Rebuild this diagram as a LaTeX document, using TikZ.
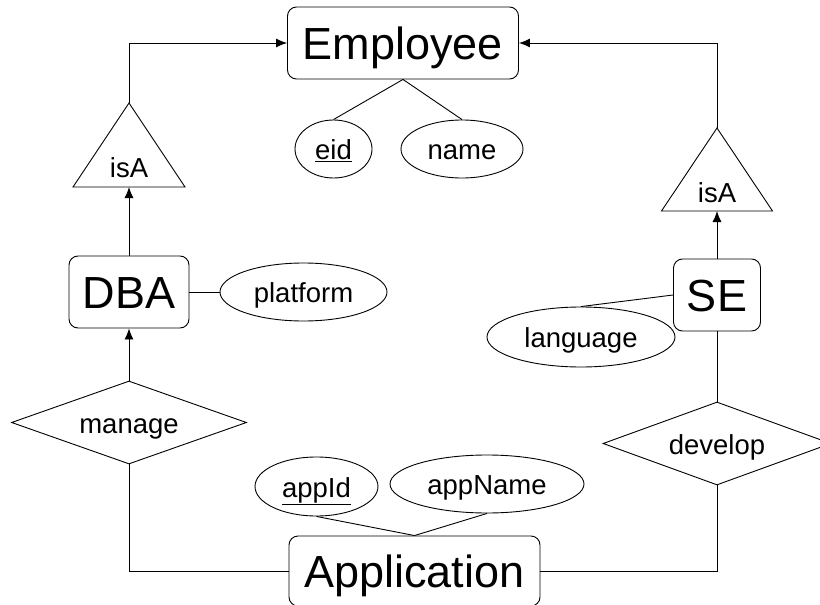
\documentclass[tikz,border=0pt]{standalone}
\usepackage{fontspec}
\setmainfont{Liberation Sans}
\usetikzlibrary{shapes.geometric,arrows.meta}

\begin{document}
\begin{tikzpicture}[x=1pt,y=-1pt,line width=.9pt,>={Latex[length=11pt,width=9pt]},
  entity/.style={draw,rounded corners=9pt,inner sep=0pt,minimum height=72pt,font=\fontsize{45}{54}\selectfont,text height=42pt,text depth=9.5pt},
  attrib/.style={draw,ellipse,inner sep=1pt,minimum height=58pt,font=\fontsize{27.5}{33}\selectfont,text height=24pt,text depth=3pt},
  relship/.style={draw,diamond,aspect=2.8,inner sep=0pt,minimum height=83pt,font=\fontsize{27.5}{33}\selectfont,text height=24pt,text depth=3pt},
  isatext/.style={inner sep=0pt,font=\fontsize{27.5}{33}\selectfont}]

\useasboundingbox (0,0) rectangle (820,605);

\node[entity,minimum width=231pt] (employee) at (403,43) {Employee};
\node[entity,minimum width=120pt] (dba) at (129,292) {DBA};
\node[entity,minimum width=87pt] (se) at (717,295) {SE};
\node[entity,minimum width=251pt,minimum height=70pt] (app) at (414.5,571) {Application};

\node[attrib,minimum width=77pt] (eid) at (333.5,149) {\underline{eid}};
\node[attrib,minimum width=122pt] (name) at (462,149) {name};
\node[attrib,minimum width=167pt] (platform) at (303.5,292) {platform};
\node[attrib,minimum width=188pt,minimum height=60pt] (language) at (581,337) {language};
\node[attrib,minimum width=123pt,minimum height=59pt] (appid) at (316.5,486.5) {\underline{appId}};
\node[attrib,minimum width=194pt] (appname) at (487,484) {appName};

\node[relship,minimum width=235pt] (manage) at (129,422.5) {manage};
\node[relship,minimum width=228pt] (develop) at (717,443.5) {develop};

\coordinate (isaltop) at (129,103);
\coordinate (isalbase) at (129,187);
\draw (isaltop) -- (185,187) -- (73,187) -- cycle;
\node[isatext] (isal) at (129,168) {isA};

\coordinate (isartop) at (717,128);
\coordinate (isarbase) at (717,211);
\draw (isartop) -- (772.5,211) -- (661.5,211) -- cycle;
\node[isatext] (isar) at (717,193) {isA};

\draw[->] (isaltop) |- (employee.west);
\draw[->] (isartop) |- (employee.east);
\draw[->] (dba) -- (isalbase);
\draw[->] (se) -- (isarbase);

\draw (employee.south) -- (eid.north);
\draw (employee.south) -- (name.north);
\draw (dba) -- (platform);
\draw (se.west) -- (language.north);

\draw[->] (manage) -- (dba);
\draw (manage.south) |- (app.west);
\draw (develop.north) -- (se.south);
\draw (develop.south) |- (app.east);

\draw (appid.south) -- (app.north);
\draw (appname.south) -- (app.north);

\end{tikzpicture}
\end{document}
